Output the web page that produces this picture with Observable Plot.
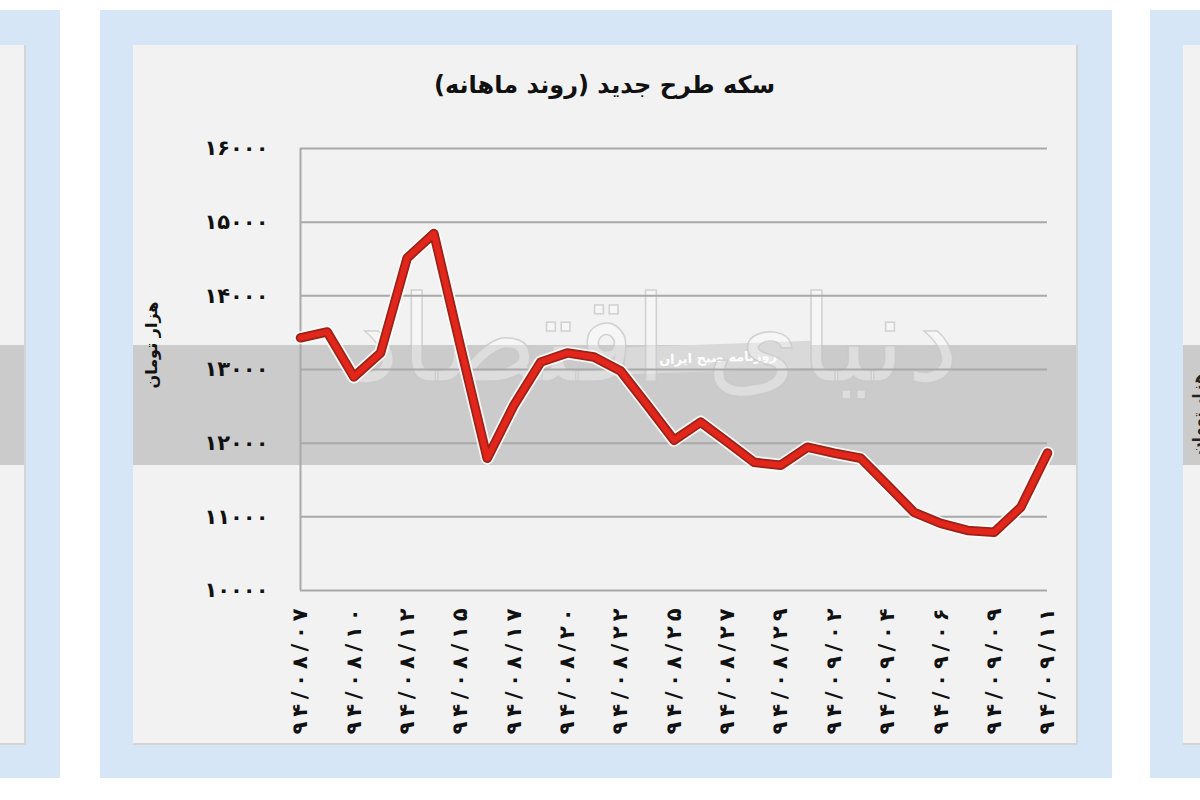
<!DOCTYPE html>
<html>
<head>
<meta charset="utf-8">
<script src="https://cdn.jsdelivr.net/npm/d3@7"></script>
<script src="https://cdn.jsdelivr.net/npm/@observablehq/plot@0.6"></script>
<style>
  body { margin: 0; width: 1200px; height: 800px; position: relative; overflow: hidden; background: #fff; font-family: "DejaVu Sans", sans-serif; }
  .frame { position: absolute; top: 10px; height: 768px; width: 1012px; background: #d6e6f6; }
  .inner { position: absolute; top: 35px; bottom: 33px; left: 33px; right: 34px; background: #f2f2f2;
           border-right: 2px solid #d4d4d4; border-bottom: 2px solid #d4d4d4; overflow: hidden; }
  .band { position: absolute; left: 0; right: 0; top: 300px; height: 120px; background: #cbcbcb; }
  .title { position: absolute; left: 0; right: 0; top: 26px; text-align: center; font-weight: bold; font-size: 24px; color: #111; }
  .stamp { position: absolute; left: 492px; top: 299px; width: 186px; height: 27px; background: #d9d9d9; color: #fff;
           font-size: 13px; font-weight: bold; text-align: center; line-height: 27px; transform: rotate(-2deg); }
  .logo { position: absolute; left: 190px; top: 225px; width: 660px; text-align: center; font-size: 120px;
          color: rgba(255,255,255,0.35); -webkit-text-stroke: 1.5px rgba(200,200,200,0.8); white-space: nowrap; }
  .ylabel { position: absolute; left: -41px; top: 288px; width: 120px; height: 24px; line-height: 24px; text-align: center;
            font-size: 16px; font-weight: bold; color: #111; transform: rotate(-90deg); white-space: nowrap; }
  #chart { position: absolute; left: 0; top: 0; }
  .side-label { position: absolute; left: 6px; top: 410px; font-size: 15px; font-weight: bold; color: #222;
                transform: rotate(-90deg); transform-origin: left top; white-space: nowrap; }
</style>
</head>
<body>
<div class="frame" style="left:-952px"><div class="inner"><div class="band"></div></div></div>
<div class="frame" style="left:100px">
  <div class="inner">
    <div class="band"></div>
    <div class="stamp" dir="rtl">روزنامه صبح ایران</div>
    <div class="logo" dir="rtl">دنیای اقتصاد</div>
    <div class="title" dir="rtl" id="title"></div>
    <div class="ylabel" dir="rtl" id="ylabel"></div>
    <div id="chart"></div>
  </div>
</div>
<div class="frame" style="left:1150px"><div class="inner"><div class="band"></div><div class="side-label" dir="rtl">هزار تومان</div></div></div>
<script>
// قیمت سکه طرح جدید (هزار تومان) – یک نقطه برای هر روز معاملاتی
const prices = [
  13430, 13510, 12900, 13225, 14515, 14845, 13305, 11795, 12515, 13100,
  13225, 13170, 12980, 12515, 12040, 12285, 12015, 11740, 11700, 11945,
  11865, 11795, 11430, 11060, 10910, 10815, 10790, 11130, 11865
]
// برچسب تاریخ‌ها (هر دو نقطه یک برچسب)
const dateLabels = [
  '۹۴/۰۸/۰۷', '۹۴/۰۸/۱۰', '۹۴/۰۸/۱۲', '۹۴/۰۸/۱۵', '۹۴/۰۸/۱۷',
  '۹۴/۰۸/۲۰', '۹۴/۰۸/۲۲', '۹۴/۰۸/۲۵', '۹۴/۰۸/۲۷', '۹۴/۰۸/۲۹',
  '۹۴/۰۹/۰۲', '۹۴/۰۹/۰۴', '۹۴/۰۹/۰۶', '۹۴/۰۹/۰۹', '۹۴/۰۹/۱۱'
]
const yTicks = [10000, 11000, 12000, 13000, 14000, 15000, 16000]
const title = 'سکه طرح جدید (روند ماهانه)'
const yLabel = 'هزار تومان'

document.getElementById('title').textContent = title
document.getElementById('ylabel').textContent = yLabel

const faDigits = v => String(v).replace(/[0-9]/g, c => '۰۱۲۳۴۵۶۷۸۹'[c])
const data = prices.map((p, i) => ({i, p}))
const xTicks = dateLabels.map((_, k) => k * 2)

const chart = Plot.plot({
  width: 943,
  height: 700,
  marginLeft: 167,
  marginRight: 29,
  marginTop: 103,
  marginBottom: 155,
  style: {background: 'transparent', fontFamily: 'DejaVu Sans', fontWeight: 'bold', color: '#111'},
  x: {
    domain: [0, prices.length - 1],
    ticks: xTicks,
    tickFormat: i => dateLabels[i / 2],
    tickRotate: -90,
    tickSize: 0,
    tickPadding: 18,
    label: null,
  },
  y: {
    domain: [10000, 16000],
    ticks: yTicks,
    tickFormat: faDigits,
    tickSize: 0,
    tickPadding: 32,
    label: null,
  },
  marks: [
    Plot.ruleY(yTicks, {stroke: '#a9a9a9', strokeWidth: 2}),
    Plot.ruleX([0], {stroke: '#a9a9a9', strokeWidth: 2}),
    Plot.line(data, {x: 'i', y: 'p', stroke: '#fff', strokeOpacity: 0.85, strokeWidth: 13, strokeLinejoin: 'round'}),
    Plot.line(data, {x: 'i', y: 'p', stroke: '#9a2216', strokeWidth: 9.5, strokeLinejoin: 'round'}),
    Plot.line(data, {x: 'i', y: 'p', stroke: '#e2261b', strokeWidth: 6, strokeLinejoin: 'round'}),
  ],
})

d3.select(chart).selectAll('text').each(function () {
  const t = d3.select(this)
  if (t.text().includes('/')) t.style('font-size', '21px').attr('textLength', 126).attr('lengthAdjust', 'spacing')
  else t.style('font-size', '21px').style('letter-spacing', '0.5px')
})

d3.select('#chart').append(() => chart)
</script>
</body>
</html>
